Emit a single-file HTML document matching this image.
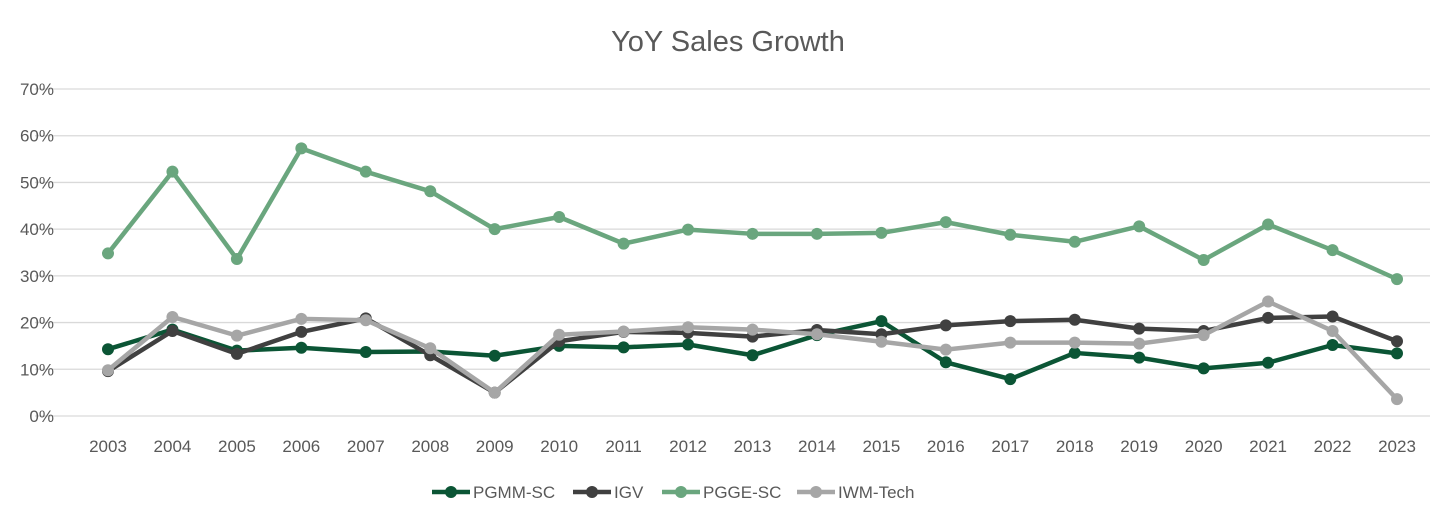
<!DOCTYPE html>
<html><head><meta charset="utf-8">
<style>
html,body{margin:0;padding:0;background:#fff;}
svg{display:block;font-family:"Liberation Sans Narrow","Liberation Sans",sans-serif;}
</style></head>
<body>
<svg id="chart" width="1456" height="528" viewBox="0 0 1456 528" xmlns="http://www.w3.org/2000/svg">
<rect width="1456" height="528" fill="#fff"/>
<text x="728" y="51" text-anchor="middle" font-size="29" fill="#595959">YoY Sales Growth</text>
<g id="grid"></g><g id="xaxis"></g><g id="series"></g><g id="legend"></g>
</svg>
<script>
const years = ["2003","2004","2005","2006","2007","2008","2009","2010","2011","2012","2013","2014","2015","2016","2017","2018","2019","2020","2021","2022","2023"];
const yTicks = [0,10,20,30,40,50,60,70];
const pgmm = [14.3,18.5,14.0,14.6,13.7,13.8,12.9,15.0,14.7,15.3,13.0,17.3,20.3,11.5,7.9,13.5,12.5,10.2,11.4,15.2,13.4];
const igv  = [9.6,18.2,13.3,18.0,20.9,13.0,5.0,16.0,18.0,17.8,17.0,18.4,17.5,19.4,20.3,20.6,18.7,18.2,21.0,21.3,16.0];
const pgge = [34.8,52.3,33.6,57.3,52.3,48.1,40.0,42.6,36.9,39.9,39.0,39.0,39.2,41.5,38.8,37.3,40.6,33.4,41.0,35.5,29.3];
const iwm  = [9.8,21.2,17.2,20.8,20.5,14.5,5.0,17.4,18.1,19.0,18.5,17.5,15.9,14.2,15.7,15.7,15.5,17.3,24.5,18.2,3.6];
const seriesNames = ["PGMM-SC","IGV","PGGE-SC","IWM-Tech"];
const seriesColors = ["#0b5535","#404040","#6aa67e","#a6a6a6"];
const seriesData = [pgmm, igv, pgge, iwm];

const NS="http://www.w3.org/2000/svg";
const X0=108, XSTEP=(1397-108)/20, Y0=416, YPER=(416-89)/70;
const xs=i=>X0+i*XSTEP, ys=v=>Y0-v*YPER;
function mk(tag,attrs,parent){const e=document.createElementNS(NS,tag);for(const k in attrs)e.setAttribute(k,attrs[k]);parent.appendChild(e);return e;}
const grid=document.getElementById('grid');
yTicks.forEach(t=>{
  const l=mk('line',{x1:35,x2:1430,y1:ys(t),y2:ys(t),stroke:'#d9d9d9','stroke-width':1.3},grid);
  
  
  const tx=mk('text',{x:54,y:ys(t)+6,'text-anchor':'end','font-size':17,fill:'#595959'},grid);
  tx.textContent=t+'%';
  
  
});
const xa=document.getElementById('xaxis');
years.forEach((y,i)=>{
  const tx=mk('text',{x:xs(i),y:452,'text-anchor':'middle','font-size':17,fill:'#595959'},xa);
  tx.textContent=y;
  
  
});
const sg=document.getElementById('series');
seriesData.forEach((d,s)=>{
  const g=mk('g',{},sg);
  
  
  const p=mk('polyline',{points:d.map((v,i)=>xs(i)+','+ys(v)).join(' '),fill:'none',stroke:seriesColors[s],'stroke-width':4.5,'stroke-linejoin':'round'},g);
  
  
  d.forEach((v,i)=>{
    const c=mk('circle',{cx:xs(i),cy:ys(v),r:6,fill:seriesColors[s]},g);
    
    
  });
});
const lg=document.getElementById('legend');
const lx=[432,573,662,797];
seriesNames.forEach((n,s)=>{
  const g=mk('g',{},lg);
  
  
  mk('line',{x1:lx[s],x2:lx[s]+38,y1:492,y2:492,stroke:seriesColors[s],'stroke-width':4.5},g);
  mk('circle',{cx:lx[s]+19,cy:492,r:6,fill:seriesColors[s]},g);
  const t=mk('text',{x:lx[s]+41,y:498,'font-size':17,fill:'#595959'},g);
  t.textContent=n;
});
</script>
</body></html>
